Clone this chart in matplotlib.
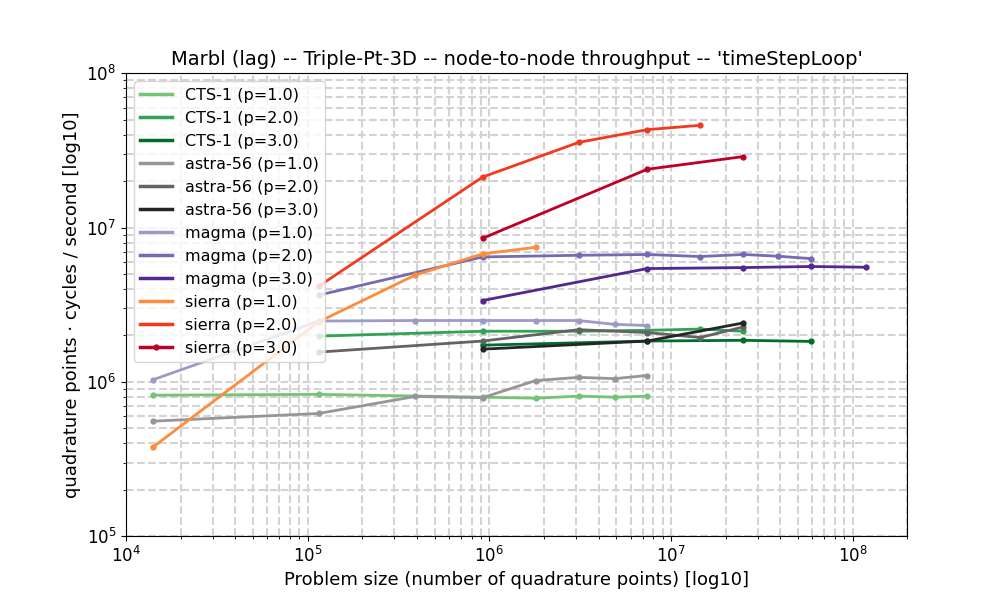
from matplotlib import pyplot as plt
from matplotlib.lines import Line2D
import numpy as np

# problem sizes (quadrature points) and throughput per machine / order
cts1_p1_x = [1.4e4, 1.15e5, 9.2e5, 1.8e6, 3.1e6, 4.9e6, 7.4e6]
cts1_p1_y = [8.2e5, 8.3e5, 7.96e5, 7.84e5, 8.08e5, 7.96e5, 8.08e5]
cts1_p2_x = [1.15e5, 9.2e5, 3.1e6, 7.4e6, 1.45e7, 2.5e7]
cts1_p2_y = [1.98e6, 2.13e6, 2.13e6, 2.16e6, 2.2e6, 2.13e6]
cts1_p3_x = [9.2e5, 7.4e6, 2.5e7, 5.9e7]
cts1_p3_y = [1.73e6, 1.84e6, 1.86e6, 1.83e6]

astra_p1_x = [1.4e4, 1.15e5, 3.9e5, 9.2e5, 1.8e6, 3.1e6, 4.9e6, 7.4e6]
astra_p1_y = [5.56e5, 6.24e5, 8.04e5, 7.9e5, 1.02e6, 1.07e6, 1.05e6, 1.1e6]
astra_p2_x = [1.15e5, 9.2e5, 3.1e6, 7.4e6, 1.45e7, 2.5e7]
astra_p2_y = [1.56e6, 1.84e6, 2.18e6, 2.09e6, 1.94e6, 2.27e6]
astra_p3_x = [9.2e5, 7.4e6, 2.5e7]
astra_p3_y = [1.63e6, 1.84e6, 2.41e6]

magma_p1_x = [1.4e4, 1.15e5, 3.9e5, 9.2e5, 1.8e6, 3.1e6, 4.9e6, 7.4e6]
magma_p1_y = [1.03e6, 2.48e6, 2.5e6, 2.5e6, 2.5e6, 2.5e6, 2.36e6, 2.32e6]
magma_p2_x = [1.15e5, 9.2e5, 3.1e6, 7.4e6, 1.45e7, 2.5e7, 3.9e7, 5.9e7]
magma_p2_y = [3.65e6, 6.46e6, 6.62e6, 6.7e6, 6.5e6, 6.7e6, 6.53e6, 6.3e6]
magma_p3_x = [9.2e5, 7.4e6, 2.5e7, 5.9e7, 1.18e8]
magma_p3_y = [3.37e6, 5.43e6, 5.51e6, 5.6e6, 5.54e6]

sierra_p1_x = [1.4e4, 1.15e5, 3.9e5, 9.2e5, 1.8e6]
sierra_p1_y = [3.76e5, 2.45e6, 4.92e6, 6.76e6, 7.46e6]
sierra_p2_x = [1.15e5, 9.2e5, 3.1e6, 7.4e6, 1.45e7]
sierra_p2_y = [4.17e6, 2.13e7, 3.57e7, 4.32e7, 4.61e7]
sierra_p3_x = [9.2e5, 7.4e6, 2.5e7]
sierra_p3_y = [8.54e6, 2.39e7, 2.89e7]

series = [
    ("CTS-1 (p=1.0)", cts1_p1_x, cts1_p1_y, "#74c476"),
    ("CTS-1 (p=2.0)", cts1_p2_x, cts1_p2_y, "#31a354"),
    ("CTS-1 (p=3.0)", cts1_p3_x, cts1_p3_y, "#006d2c"),
    ("astra-56 (p=1.0)", astra_p1_x, astra_p1_y, "#969696"),
    ("astra-56 (p=2.0)", astra_p2_x, astra_p2_y, "#636363"),
    ("astra-56 (p=3.0)", astra_p3_x, astra_p3_y, "#252525"),
    ("magma (p=1.0)", magma_p1_x, magma_p1_y, "#9e9ac8"),
    ("magma (p=2.0)", magma_p2_x, magma_p2_y, "#756bb1"),
    ("magma (p=3.0)", magma_p3_x, magma_p3_y, "#54278f"),
    ("sierra (p=1.0)", sierra_p1_x, sierra_p1_y, "#fd8d3c"),
    ("sierra (p=2.0)", sierra_p2_x, sierra_p2_y, "#f03b20"),
    ("sierra (p=3.0)", sierra_p3_x, sierra_p3_y, "#bd0026"),
]

fig = plt.figure(figsize=(10.08, 6.12), dpi=100)
ax = fig.add_subplot(1, 1, 1)
handles = []
for i, (label, x, y, c) in enumerate(series):
    ax.plot(x, y, color=c, linewidth=2, marker='.', markersize=7)
    # only the last legend entry carries the marker in the original
    if i == len(series) - 1:
        handles.append(Line2D([], [], color=c, linewidth=2.5, marker='.',
                              markersize=7, label=label))
    else:
        handles.append(Line2D([], [], color=c, linewidth=2.5, label=label))

ax.set_xscale('log')
ax.set_yscale('log')
ax.set_xlim(1e4, 2e8)
ax.set_ylim(1e5, 1e8)
ax.grid(True, which='both', linestyle='--', color='lightgray', linewidth=1.5)
ax.legend(handles=handles, loc='upper left', fontsize=11.5)
ax.set_title("Marbl (lag) -- Triple-Pt-3D -- node-to-node throughput -- "
             "'timeStepLoop'", fontsize=14)
ax.set_xlabel("Problem size (number of quadrature points) [log10]",
              fontsize=13)
ax.set_ylabel("quadrature points \u00b7 cycles / second [log10]", fontsize=13)
ax.tick_params(axis='both', which='major', labelsize=12)
plt.subplots_adjust(top=0.88, bottom=0.124, left=0.125, right=0.9)
plt.savefig("out.png")
